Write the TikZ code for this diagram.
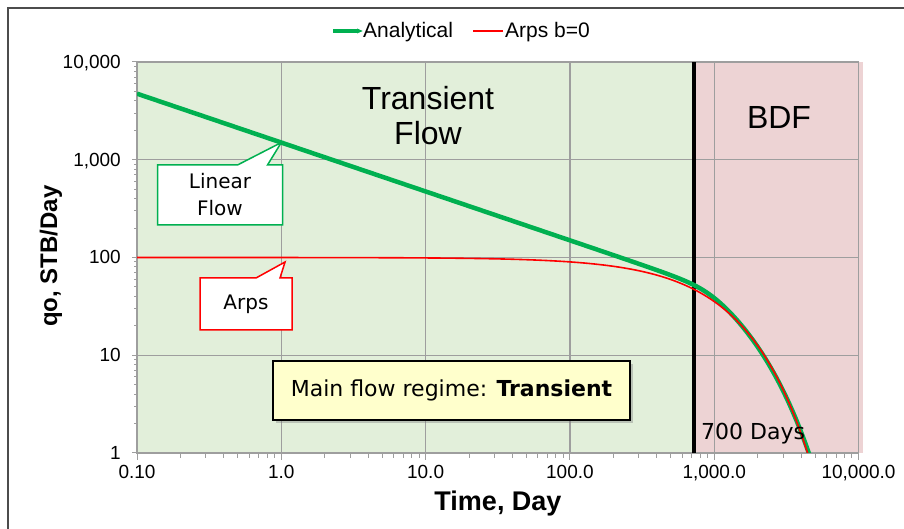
\documentclass[tikz,border=0pt]{standalone}
\usepackage{fontspec}
\setmainfont{Liberation Sans}
\newfontfamily\notefont{DejaVu Sans}
\usetikzlibrary{arrows.meta,calc,positioning,shapes.callouts,shadows}
\definecolor{regimegreen}{RGB}{226,239,218}
\definecolor{regimepink}{RGB}{237,211,212}
\definecolor{anagreen}{RGB}{0,176,80}
\definecolor{arpsred}{RGB}{255,0,0}
\definecolor{notefill}{RGB}{255,255,204}
\definecolor{gridgray}{RGB}{158,158,158}

\begin{document}
\begin{tikzpicture}[x=1pt,y=1pt,>=Stealth,
    every node/.style={inner sep=0pt},
    gridln/.style={gridgray,line width=1.3pt},
    tickln/.style={gridgray,line width=1pt},
    ticklab/.style={font=\fontsize{19}{19}\selectfont},
    axtitle/.style={font=\bfseries\fontsize{24}{24}\selectfont},
    note/.style={rectangle callout,fill=white,line width=1.5pt,align=center,
      font=\notefont\fontsize{20}{27}\selectfont}]
  \useasboundingbox (0,0) rectangle (904,529);
  \draw[gray!60!black,line width=1.5pt] (8,0) -- (8,521) -- (904,521);
  \begin{scope}[shift={(281.3pt,76pt)},x=144.3pt,y=97.75pt]
    \fill[regimegreen] (-1,0) rectangle (2.86,4);
    \fill[regimepink] (2.86,0) rectangle (4.03,4);
    \foreach \d in {0,...,3} \draw[gridln] (\d,0) -- (\d,4);
    \foreach \d in {1,...,3} \draw[gridln] (-1,\d) -- (4,\d);
    \draw[gridln] (-1,0) rectangle (4,4);
    \draw[black,line width=4pt] (2.86,0) -- (2.86,4);
    \begin{scope}
      \clip (-1,0) rectangle (4,4);
      \draw[anagreen,line width=4.5pt] plot[domain=-1:3.67,samples=220,smooth]
        (\x,{log10(1500)-0.5*\x-0.1245*(max((pow(10,\x)-780)/150,0)+ln(1+exp(-abs((pow(10,\x)-780)/150))))/ln(10)});
      \draw[arpsred,line width=1.6pt] plot[domain=-1:3.66,samples=220,smooth]
        (\x,{2-0.00103*pow(10,\x)/ln(10)});
    \end{scope}
    \foreach \d in {-1,...,3}{
      \draw[tickln] (\d,0) -- ++(0,-7pt);
      \foreach \m in {2,...,9} \draw[tickln] ({\d+log10(\m)},0) -- ++(0,-5pt);
    }
    \draw[tickln] (4,0) -- ++(0,-7pt);
    \foreach \d in {0,...,3}{
      \draw[tickln] (-1,\d) -- ++(-5pt,0);
      \foreach \m in {2,...,9} \draw[tickln] (-1,{\d+log10(\m)}) -- ++(-3pt,0);
    }
    \draw[tickln] (-1,4) -- ++(-5pt,0);
    \foreach \d/\lab in {0/1,1/10,2/100,3/{1,000},4/{10,000}}
      \node[ticklab,anchor=base east] (ylab\d) at ([xshift=-16pt,yshift=-6.5pt]-1,\d) {\lab};
    \foreach \d/\lab in {-1/0.10,0/1.0,1/10.0,2/100.0,3/{1,000.0},4/{10,000.0}}
      \node[ticklab,anchor=north] (xlab\d) at ([yshift=-12pt]\d,0) {\lab};
    \coordinate (lintip) at (0,{log10(1500)});
    \coordinate (arpstip) at (0.026,1.954);
  \end{scope}
  \node[axtitle,font=\bfseries\fontsize{27}{27}\selectfont,anchor=base] (xtitle) at (498,18) {Time, Day};
  \node[axtitle,anchor=base,rotate=90] (ytitle) at (57,273) {qo, STB/Day};
  \node[anchor=base west,font=\fontsize{21}{21}\selectfont] (legana) at (363,491) {Analytical};
  \draw[anagreen,line width=4.5pt,{Triangle[length=6pt,width=4.5pt]}-]
    ([yshift=7pt]legana.base west) -- ++(-30,0);
  \node[anchor=base west,font=\fontsize{21}{21}\selectfont] (legarps) at (505,491) {Arps b=0};
  \draw[arpsred,line width=1.6pt] ([xshift=-2pt,yshift=7pt]legarps.base west) -- ++(-30,0);
  \node[font=\fontsize{32}{35}\selectfont,align=center] (trans) at (428,413) {Transient\\Flow};
  \node[font=\fontsize{32}{32}\selectfont] (bdf) at (779,411.5) {BDF};
  \node[font=\notefont\fontsize{22}{22}\selectfont,anchor=base west] (days) at (701,89) {700 Days};
  \node[note,draw=anagreen,minimum width=125pt,minimum height=60pt,
    callout absolute pointer=(lintip),callout pointer width=30pt] (linear) at (220,334) {Linear\\Flow};
  \node[note,draw=arpsred,minimum width=92pt,minimum height=52pt,
    callout absolute pointer=(arpstip),callout pointer width=24pt] (arps) at (246,225) {Arps};
  \node[draw=black,line width=2pt,fill=notefill,minimum width=357pt,minimum height=59pt,
    font=\notefont\fontsize{22}{22}\selectfont,
    drop shadow={shadow xshift=3pt,shadow yshift=-3pt,opacity=0.4}] (regime) at (451.5,138.5)
    {Main flow regime: \textbf{Transient}};
\end{tikzpicture}
\end{document}
